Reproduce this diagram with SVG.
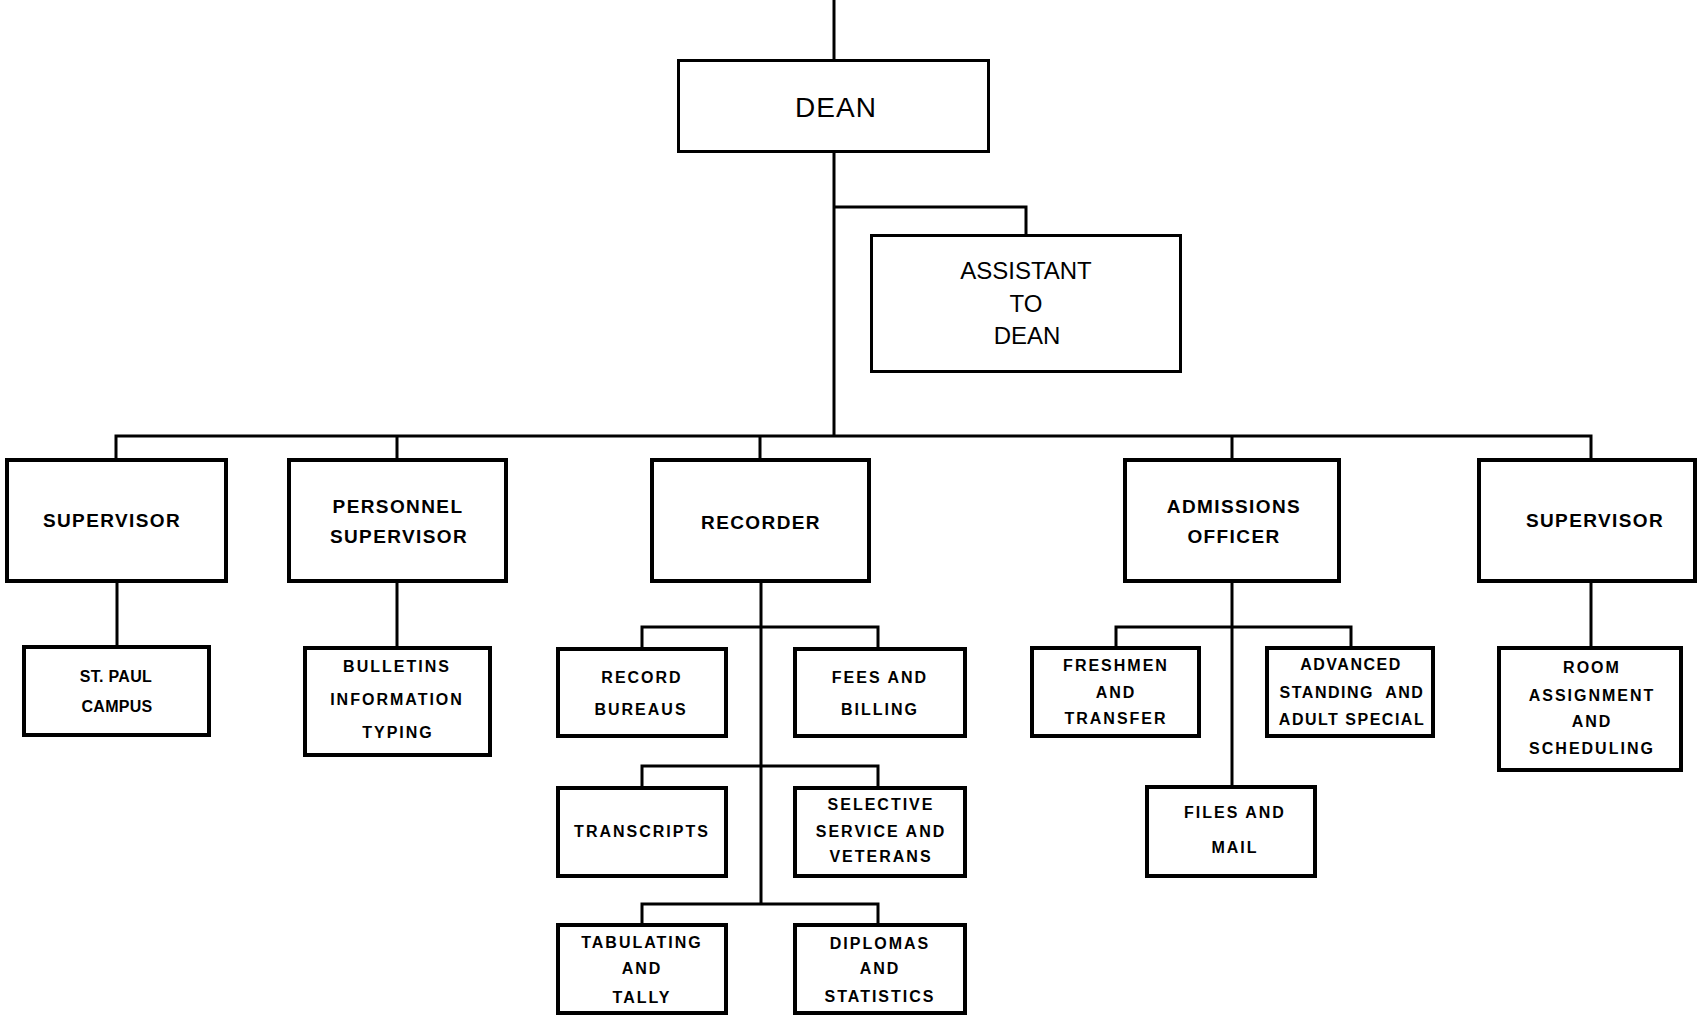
<svg xmlns="http://www.w3.org/2000/svg" width="1701" height="1022" viewBox="0 0 1701 1022">
<style>
.b1{fill:#fff;stroke:#000;stroke-width:3}
.b2{fill:#fff;stroke:#000;stroke-width:4}
.b3{fill:#fff;stroke:#000;stroke-width:4}
.c{fill:none;stroke:#000;stroke-width:3;stroke-linejoin:miter}
text{font-family:"Liberation Sans",Arial,sans-serif;fill:#000;text-anchor:middle}
.t1{font-size:28px;letter-spacing:1px}
.ta{font-size:24px}
.t2{font-size:19px;font-weight:bold;letter-spacing:1.4px}
.t3{font-size:16px;font-weight:bold;letter-spacing:2px}
.t3s{font-size:16px;font-weight:bold;letter-spacing:1.5px;white-space:pre}
.t3n{font-size:16px;font-weight:bold;letter-spacing:0.3px}
</style>
<rect width="1701" height="1022" fill="#fff"/>
<g id="connectors">
<path class="c" d="M834 0V60"/>
<path class="c" d="M834 153V436"/>
<path class="c" d="M834 207H1026V234"/>
<path class="c" d="M116 458V436H1591V458"/>
<path class="c" d="M397 436V458M760 436V458M1232 436V458"/>
<path class="c" d="M117 583V645M397 583V646"/>
<path class="c" d="M761 583V905"/>
<path class="c" d="M642 649V627H878V649"/>
<path class="c" d="M642 788V766H878V788"/>
<path class="c" d="M642 923V904H878V923"/>
<path class="c" d="M1232 583V787"/>
<path class="c" d="M1116 648V627H1351V648"/>
<path class="c" d="M1591 583V648"/>
</g>
<g id="dean"><rect class="b1" x="678.5" y="60.5" width="310" height="91"/><text class="t1" x="836" y="117">DEAN</text></g>
<g id="assistant"><rect class="b1" x="871.5" y="235.5" width="309" height="136"/><text class="ta" x="1026" y="279">ASSISTANT</text><text class="ta" x="1026" y="312">TO</text><text class="ta" x="1027" y="344">DEAN</text></g>
<g id="supervisor-left"><rect class="b2" x="7" y="460" width="219" height="121"/><text class="t2" x="112" y="527">SUPERVISOR</text></g>
<g id="personnel-supervisor"><rect class="b2" x="289" y="460" width="217" height="121"/><text class="t2" x="398" y="513">PERSONNEL</text><text class="t2" x="399" y="543">SUPERVISOR</text></g>
<g id="recorder"><rect class="b2" x="652" y="460" width="217" height="121"/><text class="t2" x="761" y="529">RECORDER</text></g>
<g id="admissions-officer"><rect class="b2" x="1125" y="460" width="214" height="121"/><text class="t2" x="1234" y="513">ADMISSIONS</text><text class="t2" x="1234" y="543">OFFICER</text></g>
<g id="supervisor-right"><rect class="b2" x="1479" y="460" width="216" height="121"/><text class="t2" x="1595" y="527">SUPERVISOR</text></g>
<g id="st-paul"><rect class="b3" x="24" y="647" width="185" height="88"/><text class="t3n" x="116" y="682">ST. PAUL</text><text class="t3n" x="117" y="712">CAMPUS</text></g>
<g id="bulletins"><rect class="b3" x="305" y="648" width="185" height="107"/><text class="t3" x="397" y="672">BULLETINS</text><text class="t3" x="397" y="705">INFORMATION</text><text class="t3" x="398" y="738">TYPING</text></g>
<g id="record-bureaus"><rect class="b3" x="558" y="649" width="168" height="87"/><text class="t3" x="642" y="683">RECORD</text><text class="t3" x="641" y="715">BUREAUS</text></g>
<g id="fees-billing"><rect class="b3" x="795" y="649" width="170" height="87"/><text class="t3" x="880" y="683">FEES AND</text><text class="t3" x="880" y="715">BILLING</text></g>
<g id="transcripts"><rect class="b3" x="558" y="788" width="168" height="88"/><text class="t3" x="642" y="837">TRANSCRIPTS</text></g>
<g id="selective-service"><rect class="b3" x="795" y="788" width="170" height="88"/><text class="t3" x="881" y="810">SELECTIVE</text><text class="t3" x="881" y="837">SERVICE AND</text><text class="t3" x="881" y="862">VETERANS</text></g>
<g id="tabulating"><rect class="b3" x="558" y="925" width="168" height="88"/><text class="t3" x="642" y="948">TABULATING</text><text class="t3" x="642" y="974">AND</text><text class="t3" x="642" y="1003">TALLY</text></g>
<g id="diplomas"><rect class="b3" x="795" y="925" width="170" height="88"/><text class="t3" x="880" y="949">DIPLOMAS</text><text class="t3" x="880" y="974">AND</text><text class="t3" x="880" y="1002">STATISTICS</text></g>
<g id="freshmen"><rect class="b3" x="1032" y="648" width="167" height="88"/><text class="t3" x="1116" y="671">FRESHMEN</text><text class="t3" x="1116" y="698">AND</text><text class="t3" x="1116" y="724">TRANSFER</text></g>
<g id="advanced"><rect class="b3" x="1267" y="648" width="166" height="88"/><text class="t3s" x="1351" y="670">ADVANCED</text><text class="t3s" x="1352" y="698">STANDING  AND</text><text class="t3s" x="1352" y="725">ADULT SPECIAL</text></g>
<g id="files-mail"><rect class="b3" x="1147" y="787" width="168" height="89"/><text class="t3" x="1235" y="818">FILES AND</text><text class="t3" x="1235" y="853">MAIL</text></g>
<g id="room-assignment"><rect class="b3" x="1499" y="648" width="182" height="122"/><text class="t3" x="1592" y="673">ROOM</text><text class="t3" x="1592" y="701">ASSIGNMENT</text><text class="t3" x="1592" y="727">AND</text><text class="t3" x="1592" y="754">SCHEDULING</text></g>
</svg>
